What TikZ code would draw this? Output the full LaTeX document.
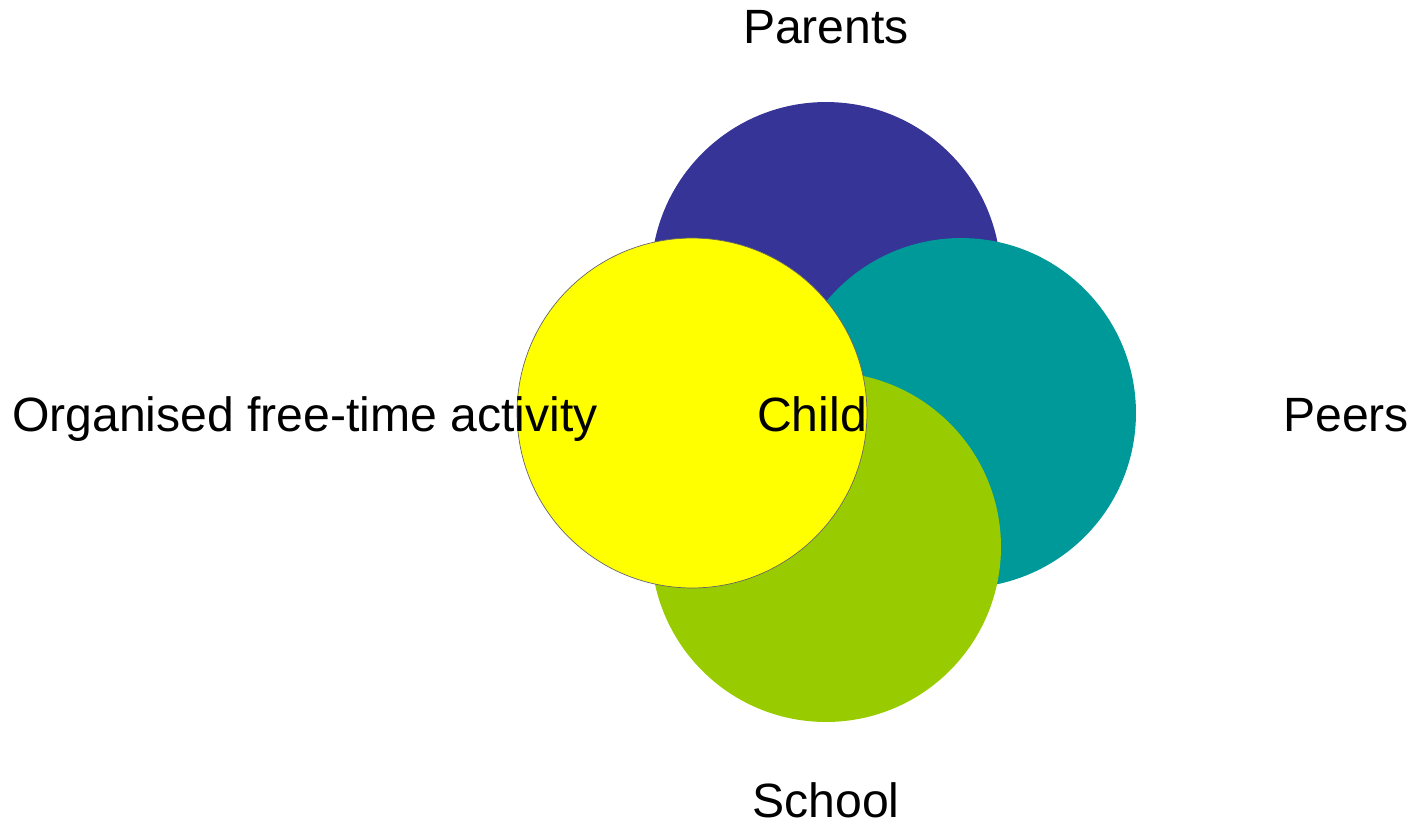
\documentclass[tikz,border=0pt]{standalone}
\usepackage{fontspec}
\setmainfont{Liberation Sans}
\usepackage{tikz}
\definecolor{parentcol}{HTML}{363497}
\definecolor{peercol}{HTML}{009999}
\definecolor{schoolcol}{HTML}{99CC00}
\definecolor{childcol}{HTML}{FFFF00}
\tikzset{
  ring/.style={circle,minimum size=7cm,inner sep=0pt},
  lab/.style={anchor=base,font=\fontsize{27.4}{31}\selectfont,inner sep=0pt}
}

\begin{document}
\begin{tikzpicture}[x=0.02cm,y=-0.02cm]

\useasboundingbox (0,0) rectangle (1414,826);

\node[ring,fill=parentcol] (parents) at (826,277) {};
\node[ring,fill=peercol] (peers) at (961,413) {};
\node[ring,fill=schoolcol] (school) at (826,547) {};
\node[ring,fill=childcol,draw=black!60,line width=0.4pt] (free) at (692,413) {};

\node[lab] (tparents) at (826,43) {Parents};
\node[lab] (tpeers) at (1346,431) {Peers};
\node[lab] (tschool) at (826,817) {School};
\node[lab] (tfree) at (305,431) {Organised free-time activity};
\node[lab] (tchild) at (812,431) {Child};

\end{tikzpicture}
\end{document}
